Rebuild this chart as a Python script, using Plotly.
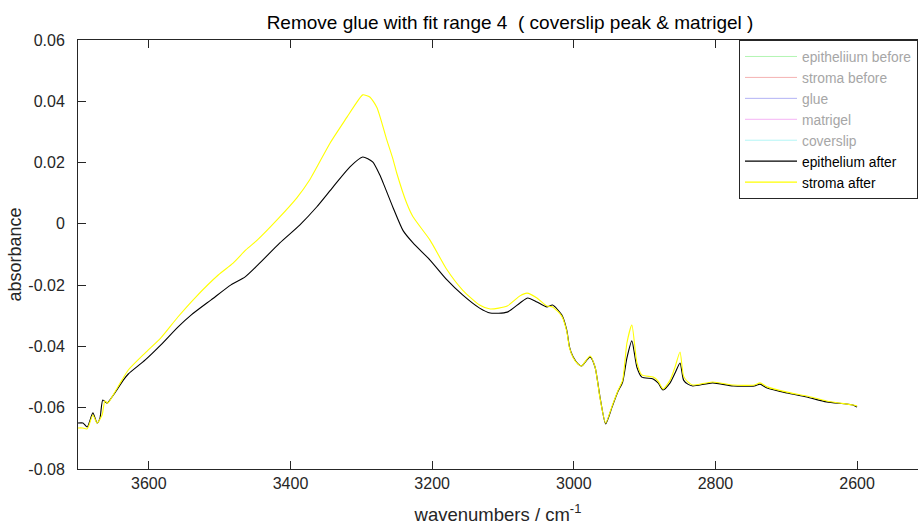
import plotly.graph_objects as go

# Spectra after glue removal (wavenumber in cm^-1, absorbance)
epi_wn = [3700, 3693, 3687, 3679, 3673, 3669, 3665, 3659, 3652, 3648, 3636, 3629,
          3605, 3583, 3559, 3540, 3512, 3484, 3464, 3446, 3415, 3387, 3363, 3340,
          3316, 3298, 3284, 3274, 3269, 3255, 3241, 3227, 3203, 3179, 3157, 3133,
          3118, 3094, 3076, 3065, 3052, 3038, 3030, 3017, 3010, 3006, 3001, 2994,
          2989, 2977, 2970, 2963, 2955, 2946, 2938, 2931, 2925, 2918, 2911, 2904,
          2888, 2881, 2874, 2864, 2857, 2850, 2845, 2839, 2832, 2804, 2775, 2745,
          2737, 2727, 2699, 2671, 2643, 2606, 2600]
epi_abs = [-0.0650, -0.0650, -0.0663, -0.0617, -0.0650, -0.0634, -0.0575, -0.0585,
           -0.0565, -0.0552, -0.0510, -0.0490, -0.0444, -0.0395, -0.0337, -0.0297,
           -0.0248, -0.0199, -0.0173, -0.0134, -0.0062, -0.0004, 0.0055, 0.0120,
           0.0186, 0.0218, 0.0202, 0.0160, 0.0133, 0.0052, -0.0022, -0.0062,
           -0.0118, -0.0183, -0.0232, -0.0275, -0.0291, -0.0288, -0.0258, -0.0242,
           -0.0255, -0.0271, -0.0265, -0.0297, -0.0346, -0.0402, -0.0434, -0.0457,
           -0.0464, -0.0434, -0.0467, -0.0565, -0.0653, -0.0598, -0.0549, -0.0516,
           -0.0438, -0.0382, -0.0467, -0.0500, -0.0506, -0.0519, -0.0542, -0.0519,
           -0.0487, -0.0454, -0.0510, -0.0523, -0.0529, -0.0519, -0.0529, -0.0529,
           -0.0523, -0.0536, -0.0552, -0.0565, -0.0581, -0.0591, -0.0598]

str_wn = [3700, 3694, 3687, 3679, 3673, 3666, 3662, 3658, 3652, 3638, 3629, 3605,
          3583, 3559, 3535, 3502, 3481, 3463, 3447, 3419, 3391, 3373, 3344, 3320,
          3306, 3298, 3288, 3278, 3264, 3255, 3250, 3236, 3227, 3203, 3179,
          3157, 3133, 3118, 3094, 3076, 3066, 3052, 3038, 3030, 3017, 3010, 3006,
          3001, 2994, 2989, 2977, 2970, 2963, 2955, 2946, 2938, 2931, 2925, 2918,
          2911, 2904, 2888, 2881, 2874, 2864, 2857, 2850, 2845, 2839, 2832, 2804,
          2775, 2745, 2737, 2727, 2699, 2671, 2643, 2606, 2600]
str_abs = [-0.0666, -0.0666, -0.0669, -0.0624, -0.0650, -0.0624, -0.0578, -0.0585,
           -0.0565, -0.0510, -0.0477, -0.0421, -0.0372, -0.0304, -0.0242, -0.0167,
           -0.0128, -0.0085, -0.0053, 0.0013, 0.0085, 0.0143, 0.0264, 0.0349,
           0.0398, 0.0421, 0.0414, 0.0380, 0.0274, 0.0209, 0.0166,
           0.0068, 0.0023, -0.0053, -0.0150, -0.0216, -0.0265, -0.0278, -0.0268,
           -0.0235, -0.0226, -0.0242, -0.0268, -0.0271, -0.0301, -0.0350, -0.0405,
           -0.0436, -0.0458, -0.0464, -0.0431, -0.0467, -0.0568, -0.0650, -0.0595,
           -0.0546, -0.0510, -0.0389, -0.0330, -0.0451, -0.0493, -0.0500, -0.0513,
           -0.0539, -0.0510, -0.0467, -0.0418, -0.0497, -0.0516, -0.0526, -0.0516,
           -0.0526, -0.0526, -0.0519, -0.0532, -0.0549, -0.0562, -0.0578, -0.0591,
           -0.0594]

# Spectra listed in the legend but not drawn in this view
hidden_names = ["epitheliium before", "stroma before", "glue", "matrigel", "coverslip"]
hidden_colors = ["#b3f5b3", "#f5b3b3", "#b3b3f5", "#f5b3f5", "#b3f5f5"]

x_ticks = [3600, 3400, 3200, 3000, 2800, 2600]
y_ticks = [-0.08, -0.06, -0.04, -0.02, 0, 0.02, 0.04, 0.06]
y_tick_text = ["-0.08", "-0.06", "-0.04", "-0.02", "0", "0.02", "0.04", "0.06"]

FONT = "Liberation Sans, Arial, Helvetica, sans-serif"
AXIS = "#262626"

fig = go.Figure()
for name, color in zip(hidden_names, hidden_colors):
    fig.add_trace(go.Scatter(
        x=[None], y=[None], mode="lines",
        name="<span style='color:#a6a6a6'>" + name + "</span>",
        line=dict(color=color, width=1),
    ))

fig.add_trace(go.Scatter(
    x=epi_wn, y=epi_abs, mode="lines", name="epithelium after",
    line=dict(color="#000000", width=1.1, shape="spline", smoothing=0.6),
))
fig.add_trace(go.Scatter(
    x=str_wn, y=str_abs, mode="lines", name="stroma after",
    line=dict(color="#ffff00", width=1.1, shape="spline", smoothing=0.6),
))

fig.update_layout(
    width=918, height=525,
    margin=dict(l=78, r=0, t=40, b=56),
    paper_bgcolor="white", plot_bgcolor="white",
    font=dict(family=FONT, size=16, color=AXIS),
    title=dict(
        text="Remove glue with fit range 4&nbsp; ( coverslip peak & matrigel )",
        font=dict(family=FONT, size=19, color="#000000"),
        x=0.5556, xref="container", xanchor="center",
        y=1 - 22 / 525, yref="container", yanchor="middle",
    ),
    showlegend=True,
    legend=dict(
        x=1, y=1, xanchor="right", yanchor="top",
        bgcolor="white", bordercolor=AXIS, borderwidth=1,
        font=dict(family=FONT, size=13.8, color="#000000"),
        itemwidth=52, tracegroupgap=0,
    ),
)

fig.update_xaxes(
    range=[3700, 2514], tickvals=x_ticks,
    ticks="inside", ticklen=8, tickcolor=AXIS, tickwidth=1,
    showline=True, linecolor=AXIS, linewidth=1, mirror="ticks",
    showgrid=False, zeroline=False,
    tickfont=dict(size=16, color=AXIS),
    title=dict(text="wavenumbers / cm<sup>-1</sup>",
               font=dict(size=18.5, color=AXIS), standoff=18),
)
fig.update_yaxes(
    range=[-0.08, 0.06], tickvals=y_ticks, ticktext=y_tick_text,
    ticks="inside", ticklen=8, tickcolor=AXIS, tickwidth=1,
    showline=True, linecolor=AXIS, linewidth=1, mirror=False,
    showgrid=False, zeroline=False,
    tickfont=dict(size=16, color=AXIS), ticklabelstandoff=9,
    title=dict(text="absorbance", font=dict(size=18, color=AXIS), standoff=2),
)

fig.write_html("out.html")
